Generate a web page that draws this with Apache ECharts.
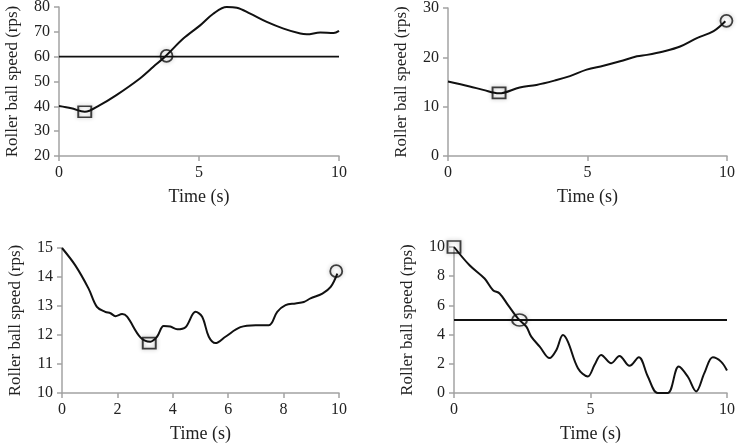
<!DOCTYPE html>
<html>
<head>
<meta charset="utf-8">
<script src="https://cdn.jsdelivr.net/npm/echarts@6/dist/echarts.min.js"></script>
<style>
html,body{margin:0;padding:0;background:#fff;}
#c{width:740px;height:445px;}
</style>
</head>
<body>
<div id="c"></div>
<script>
// Panel A (top-left)
var timeA = [0, 0.44, 0.92, 1.46, 2.05, 2.89, 3.37, 3.84, 4.44, 5.04, 5.51, 5.99, 6.35, 6.83, 7.42, 8.02, 8.62, 8.85, 9.33, 9.81, 10];
var speedA = [40.1, 39.2, 37.8, 40.5, 44.5, 51.2, 55.9, 60.6, 67.3, 72.6, 77.3, 80, 79.7, 77.3, 74, 71.3, 69.3, 69, 69.7, 69.5, 70.4];
var thresholdA = 60;
var squareA = [0.92, 37.8];
var circleA = [3.84, 60.3];

// Panel B (top-right)
var timeB = [0, 0.78, 1.26, 1.83, 2.57, 3.17, 3.89, 4.37, 4.97, 5.57, 6.17, 6.77, 7.13, 7.72, 8.32, 8.92, 9.52, 9.94];
var speedB = [15.1, 14.1, 13.4, 12.7, 13.9, 14.4, 15.4, 16.2, 17.5, 18.3, 19.2, 20.2, 20.5, 21.2, 22.2, 23.9, 25.3, 27.3];
var squareB = [1.83, 12.8];
var circleB = [9.98, 27.4];

// Panel C (bottom-left)
var timeC = [0, 0.48, 0.96, 1.26, 1.56, 1.75, 1.93, 2.17, 2.35, 2.83, 3.19, 3.43, 3.67, 3.91, 4.16, 4.46, 4.82, 5.06, 5.3, 5.54, 5.9, 6.44, 6.99, 7.47, 7.77, 8.07, 8.43, 8.73, 8.97, 9.4, 9.7, 9.94];
var speedC = [15.0, 14.4, 13.6, 12.97, 12.8, 12.75, 12.65, 12.72, 12.63, 11.92, 11.77, 11.94, 12.31, 12.29, 12.2, 12.27, 12.8, 12.63, 11.94, 11.72, 11.94, 12.27, 12.34, 12.34, 12.8, 13.03, 13.09, 13.14, 13.26, 13.43, 13.66, 14.12];
var squareC = [3.15, 11.72];
var circleC = [9.9, 14.2];

// Panel D (bottom-right)
var timeD = [0, 0.57, 1.12, 1.43, 1.67, 1.98, 2.34, 2.65, 2.83, 3.14, 3.5, 3.75, 3.99, 4.17, 4.54, 4.9, 5.15, 5.39, 5.76, 6.06, 6.43, 6.77, 7.1, 7.46, 7.83, 8.23, 8.56, 8.87, 9.17, 9.48, 9.78, 10];
var speedD = [10, 8.75, 7.84, 7.04, 6.82, 6.02, 5.11, 4.54, 3.86, 3.18, 2.39, 2.95, 3.97, 3.52, 1.7, 1.13, 1.93, 2.61, 2.04, 2.54, 1.86, 2.45, 1.13, 0, 0, 1.81, 1.13, 0.11, 1.36, 2.45, 2.15, 1.54];
var thresholdD = 5;
var squareD = [0, 10];
var circleD = [2.4, 5];

var timeTicks = [0, 10];

function zip(a, b) { return a.map(function (v, i) { return [v, b[i]]; }); }

var axisLineStyle = { color: '#a3a3a3', width: 1.5 };
var tickFont = { fontFamily: 'Liberation Serif', fontSize: 16, color: '#222' };

function xAx(gi, interval) {
  return {
    gridIndex: gi, type: 'value', min: timeTicks[0], max: timeTicks[1], interval: interval,
    name: 'Time (s)', nameLocation: 'middle', nameGap: 32,
    nameTextStyle: { fontFamily: 'Liberation Serif', fontSize: 18, color: '#222' },
    axisLine: { show: true, lineStyle: axisLineStyle },
    axisTick: { show: true, inside: false, length: 5, lineStyle: axisLineStyle },
    axisLabel: Object.assign({ margin: 9 }, tickFont),
    splitLine: { show: false }
  };
}
function yAx(gi, min, max, interval) {
  return {
    gridIndex: gi, type: 'value', min: min, max: max, interval: interval,
    name: 'Roller ball speed (rps)', nameLocation: 'middle', nameGap: 38,
    nameTextStyle: { fontFamily: 'Liberation Serif', fontSize: 17, color: '#222' },
    axisLine: { show: true, lineStyle: axisLineStyle },
    axisTick: { show: true, inside: false, length: 5, lineStyle: axisLineStyle },
    axisLabel: Object.assign({ margin: 9 }, tickFont),
    splitLine: { show: false }
  };
}
function curve(gi, data) {
  return { type: 'line', xAxisIndex: gi, yAxisIndex: gi, data: data, smooth: 0.35, showSymbol: false,
    lineStyle: { color: '#111', width: 2 }, z: 3, animation: false };
}
function hline(gi, y) {
  return { type: 'line', xAxisIndex: gi, yAxisIndex: gi, data: [[timeTicks[0], y], [timeTicks[1], y]], showSymbol: false,
    lineStyle: { color: '#111', width: 1.8 }, z: 2, animation: false };
}
function marker(gi, pt, sym, size) {
  return { type: 'scatter', xAxisIndex: gi, yAxisIndex: gi, data: [pt], symbol: sym, symbolSize: size,
    itemStyle: { color: 'rgba(0,0,0,0)', borderColor: '#111', borderWidth: 1.8, shadowBlur: 4, shadowColor: 'rgba(0,0,0,0.35)' },
    z: 4, animation: false, silent: true };
}

var chart = echarts.init(document.getElementById('c'), null, { renderer: 'canvas' });
chart.setOption({
  animation: false,
  backgroundColor: '#fff',
  grid: [
    { left: 59, top: 7, width: 280, height: 149, outerBoundsMode: 'none' },
    { left: 448, top: 8, width: 279, height: 148, outerBoundsMode: 'none' },
    { left: 62, top: 248, width: 277, height: 145, outerBoundsMode: 'none' },
    { left: 454, top: 247, width: 273, height: 146, outerBoundsMode: 'none' }
  ],
  xAxis: [xAx(0, 5), xAx(1, 5), xAx(2, 2), xAx(3, 5)],
  yAxis: [yAx(0, 20, 80, 10), yAx(1, 0, 30, 10), yAx(2, 10, 15, 1), yAx(3, 0, 10, 2)],
  series: [
    hline(0, thresholdA), curve(0, zip(timeA, speedA)), marker(0, squareA, 'rect', [13, 11]), marker(0, circleA, 'circle', 12),
    curve(1, zip(timeB, speedB)), marker(1, squareB, 'rect', [13, 11]), marker(1, circleB, 'circle', 12),
    curve(2, zip(timeC, speedC)), marker(2, squareC, 'rect', [13, 11]), marker(2, circleC, 'circle', 12),
    hline(3, thresholdD), curve(3, zip(timeD, speedD)), marker(3, squareD, 'rect', [13, 12]), marker(3, circleD, 'circle', [15, 12])
  ]
});
</script>
</body>
</html>
